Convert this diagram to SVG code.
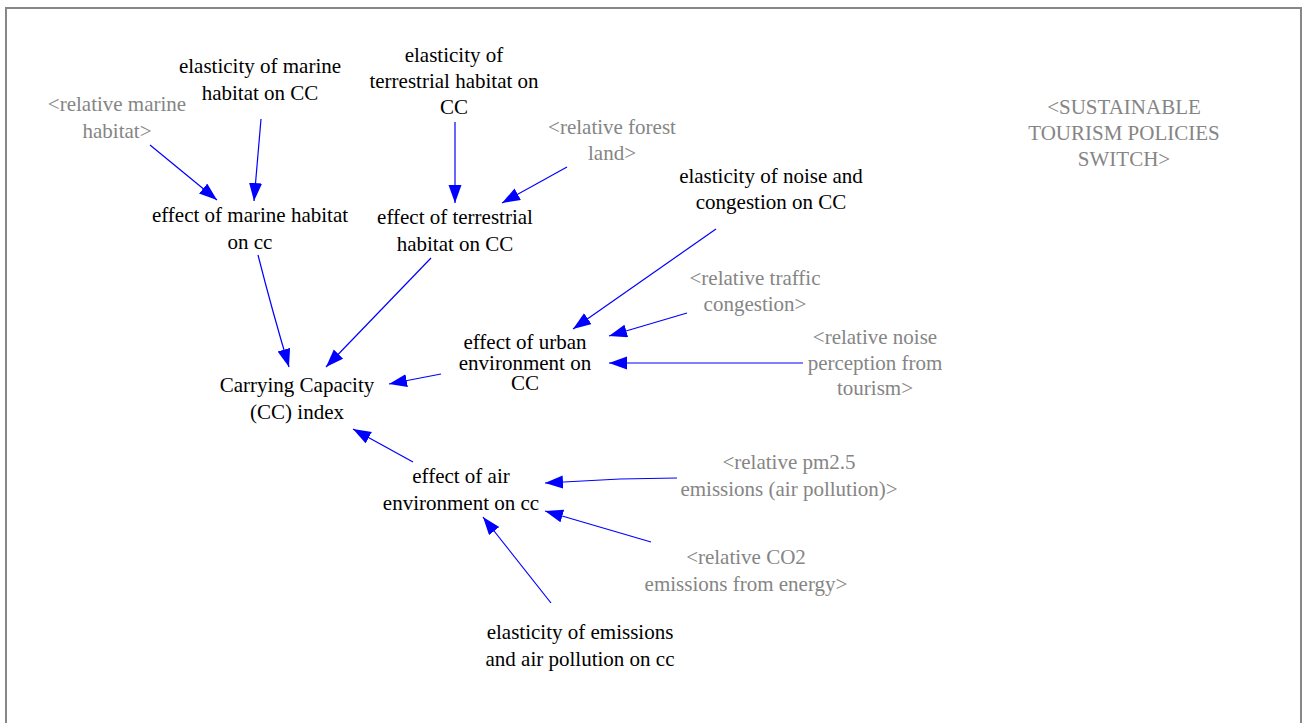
<svg xmlns="http://www.w3.org/2000/svg" width="1302" height="723" viewBox="0 0 1302 723">
  <defs>
    <style>
      .lbl { font-family: 'Liberation Serif', 'DejaVu Serif', serif; font-size: 21px; text-anchor: middle; fill: #000; }
      .shadow { fill: #858585; }
      .link { fill: none; stroke: #0000ff; stroke-width: 1.2; marker-end: url(#head); }
      .frame { fill: none; stroke: #878787; stroke-width: 2; }
    </style>
    <marker id="head" markerUnits="userSpaceOnUse" markerWidth="20" markerHeight="14" refX="18" refY="6.5" orient="auto">
      <path d="M0,0 L18,6.5 L0,13 Z" fill="#0000ff"/>
    </marker>
  </defs>

  <rect width="1302" height="723" fill="#fff"/>
  <rect class="frame" x="6" y="8" width="1295" height="730"/>

  <!-- causal links -->
  <g id="connectors">
    <path class="link" d="M150,145 L217,200"/>
    <path class="link" d="M261,119 L254,201"/>
    <path class="link" d="M455,122 L455,203"/>
    <path class="link" d="M567,167 L502,203"/>
    <path class="link" d="M258,255 Q272,310 289,367"/>
    <path class="link" d="M431,258 L326,367"/>
    <path class="link" d="M441,374 L389,384"/>
    <path class="link" d="M716,229 L573,329"/>
    <path class="link" d="M687,313 L609,336"/>
    <path class="link" d="M803,363 L609,363"/>
    <path class="link" d="M413,462 L353,429"/>
    <path class="link" d="M677,478 L620,479 L545,483"/>
    <path class="link" d="M651,542 L545,511"/>
    <path class="link" d="M551,603 L483,517"/>
  </g>

  <g id="relative-marine-habitat">
    <text class="lbl shadow" x="117" y="111">&lt;relative marine</text>
    <text class="lbl shadow" x="117" y="138">habitat&gt;</text>
  </g>
  <g id="elasticity-marine">
    <text class="lbl" x="260" y="73">elasticity of marine</text>
    <text class="lbl" x="260" y="100">habitat on CC</text>
  </g>
  <g id="elasticity-terrestrial">
    <text class="lbl" x="454" y="62">elasticity of</text>
    <text class="lbl" x="454" y="88">terrestrial habitat on</text>
    <text class="lbl" x="454" y="114">CC</text>
  </g>
  <g id="relative-forest-land">
    <text class="lbl shadow" x="612" y="134">&lt;relative forest</text>
    <text class="lbl shadow" x="612" y="160">land&gt;</text>
  </g>
  <g id="effect-marine">
    <text class="lbl" x="250" y="222">effect of marine habitat</text>
    <text class="lbl" x="250" y="249">on cc</text>
  </g>
  <g id="effect-terrestrial">
    <text class="lbl" x="455" y="224">effect of terrestrial</text>
    <text class="lbl" x="455" y="251">habitat on CC</text>
  </g>
  <g id="elasticity-noise">
    <text class="lbl" x="771" y="183">elasticity of noise and</text>
    <text class="lbl" x="771" y="209">congestion on CC</text>
  </g>
  <g id="relative-traffic-congestion">
    <text class="lbl shadow" x="755" y="285">&lt;relative traffic</text>
    <text class="lbl shadow" x="755" y="311">congestion&gt;</text>
  </g>
  <g id="relative-noise-perception">
    <text class="lbl shadow" x="875" y="344">&lt;relative noise</text>
    <text class="lbl shadow" x="875" y="370">perception from</text>
    <text class="lbl shadow" x="875" y="395">tourism&gt;</text>
  </g>
  <g id="effect-urban">
    <text class="lbl" x="525" y="349">effect of urban</text>
    <text class="lbl" x="525" y="370">environment on</text>
    <text class="lbl" x="525" y="390">CC</text>
  </g>
  <g id="carrying-capacity-index">
    <text class="lbl" x="297" y="392">Carrying Capacity</text>
    <text class="lbl" x="297" y="419">(CC) index</text>
  </g>
  <g id="effect-air">
    <text class="lbl" x="461" y="483">effect of air</text>
    <text class="lbl" x="461" y="510">environment on cc</text>
  </g>
  <g id="relative-pm25">
    <text class="lbl shadow" x="789" y="469">&lt;relative pm2.5</text>
    <text class="lbl shadow" x="789" y="496">emissions (air pollution)&gt;</text>
  </g>
  <g id="relative-co2">
    <text class="lbl shadow" x="746" y="564">&lt;relative CO2</text>
    <text class="lbl shadow" x="746" y="591">emissions from energy&gt;</text>
  </g>
  <g id="elasticity-emissions">
    <text class="lbl" x="580" y="639">elasticity of emissions</text>
    <text class="lbl" x="580" y="666">and air pollution on cc</text>
  </g>
  <g id="sustainable-tourism-switch">
    <text class="lbl shadow" x="1124" y="114">&lt;SUSTAINABLE</text>
    <text class="lbl shadow" x="1124" y="140">TOURISM POLICIES</text>
    <text class="lbl shadow" x="1124" y="166">SWITCH&gt;</text>
  </g>
</svg>
